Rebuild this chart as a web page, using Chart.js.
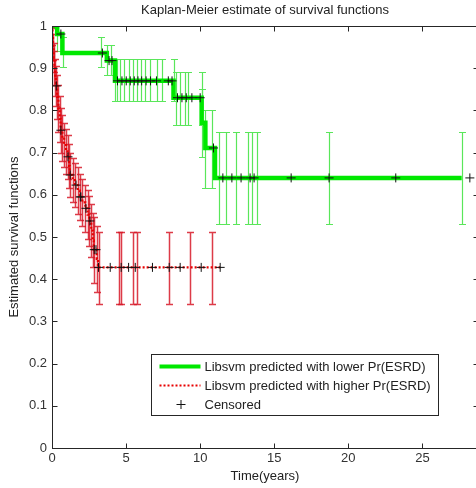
<!DOCTYPE html>
<html>
<head>
<meta charset="utf-8">
<title>Kaplan-Meier estimate of survival functions</title>
<script src="https://cdn.jsdelivr.net/npm/chart.js@4.4.1/dist/chart.umd.min.js"></script>
<style>
  html, body { margin: 0; padding: 0; background: #fff; overflow: hidden; }
  #wrap { width: 484px; height: 488px; }
</style>
</head>
<body>
<div id="wrap"><canvas id="km" width="484" height="488"></canvas></div>
<script>
// survival curves (step times in years, survival after the step)
const greenTimes = [0, 0.35, 0.7, 3.7, 4.25, 8.2, 10.1, 10.35, 11.0, 27.65];
const greenSurv  = [1, 0.981, 0.936, 0.918, 0.87, 0.83, 0.771, 0.711, 0.64, 0.64];

const redTimes = [0, 0.03, 0.07, 0.11, 0.16, 0.22, 0.27, 0.35, 0.43, 0.52, 0.58, 0.7, 0.82, 0.95, 1.05,
                  1.15, 1.2, 1.4, 1.55, 1.75, 1.88, 2.05, 2.25, 2.4, 2.52, 2.65, 2.75, 2.82, 3.02, 3.1, 11.35];
const redSurv  = [1, 0.975, 0.95, 0.925, 0.9, 0.878, 0.858, 0.832, 0.805, 0.78, 0.753, 0.735, 0.718, 0.703, 0.69,
                  0.668, 0.647, 0.635, 0.623, 0.61, 0.595, 0.582, 0.568, 0.553, 0.538, 0.515, 0.492, 0.47, 0.448, 0.428, 0.428];

// censored observations
const greenCensorTimes = [0.6, 3.4, 3.85, 4.05, 4.42, 4.72, 5.01, 5.28, 5.55, 5.8, 6.05, 6.35, 6.65, 7.05, 7.85, 8.1,
                          8.47, 8.77, 9.06, 9.44, 10.0, 10.9, 11.53, 12.14, 12.76, 13.37, 13.64, 16.14, 18.7, 23.2, 28.2];
const greenCensorSurv  = [0.981, 0.936, 0.918, 0.918, 0.87, 0.87, 0.87, 0.87, 0.87, 0.87, 0.87, 0.87, 0.87, 0.87, 0.87, 0.87,
                          0.83, 0.83, 0.83, 0.83, 0.83, 0.711, 0.64, 0.64, 0.64, 0.64, 0.64, 0.64, 0.64, 0.64, 0.64];
const redCensorTimes = [0.29, 0.6, 1.08, 1.23, 1.62, 1.91, 1.95, 2.29, 2.56, 2.85, 2.97, 3.14, 3.93, 4.67, 5.17,
                        5.62, 6.78, 7.91, 8.65, 10.07, 11.35];
const redCensorSurv  = [0.858, 0.753, 0.69, 0.647, 0.623, 0.595, 0.595, 0.568, 0.538, 0.47, 0.47, 0.428, 0.428, 0.428, 0.428,
                        0.428, 0.428, 0.428, 0.428, 0.428, 0.428];

// confidence bars
const greenBarTimes = [0.35, 0.75, 3.3, 3.7, 3.95, 4.25, 4.38, 4.6, 4.88, 5.17, 5.44, 5.73, 6.0, 6.29, 6.63, 7.08, 7.42, 8.2,
                       8.35, 8.65, 8.95, 9.2, 10.1, 10.15, 10.35, 10.83, 11.24, 11.73, 12.43, 13.26, 13.53, 13.82, 18.7, 27.65];
const greenBarLow  = [0.94, 0.903, 0.903, 0.885, 0.885, 0.822, 0.822, 0.822, 0.822, 0.822, 0.822, 0.822, 0.822, 0.822, 0.822, 0.822, 0.822, 0.822,
                      0.765, 0.765, 0.765, 0.765, 0.765, 0.69, 0.617, 0.617, 0.53, 0.53, 0.53, 0.53, 0.53, 0.53, 0.53, 0.53];
const greenBarHigh = [1.0, 0.975, 0.975, 0.955, 0.955, 0.921, 0.921, 0.921, 0.921, 0.921, 0.921, 0.921, 0.921, 0.921, 0.921, 0.921, 0.921, 0.921,
                      0.892, 0.892, 0.892, 0.892, 0.892, 0.85, 0.802, 0.802, 0.749, 0.749, 0.749, 0.749, 0.749, 0.749, 0.749, 0.749];

const redBarTimes = [0.03, 0.07, 0.11, 0.16, 0.22, 0.27, 0.35, 0.43, 0.52, 0.58, 0.7, 0.82, 0.95, 1.05, 1.15, 1.2, 1.4, 1.55,
                     1.75, 1.88, 2.05, 2.25, 2.4, 2.52, 2.65, 2.75, 2.82, 3.02, 3.14, 4.49, 4.67, 5.46, 5.73, 7.91, 9.33, 10.79];
const redBarLow  = [0.955, 0.92, 0.89, 0.86, 0.835, 0.81, 0.78, 0.75, 0.725, 0.7, 0.68, 0.665, 0.65, 0.638, 0.615, 0.595, 0.583, 0.57,
                    0.555, 0.54, 0.527, 0.512, 0.495, 0.478, 0.452, 0.428, 0.39, 0.37, 0.342, 0.342, 0.342, 0.342, 0.342, 0.342, 0.342, 0.342];
const redBarHigh = [0.995, 0.98, 0.96, 0.94, 0.921, 0.906, 0.884, 0.86, 0.835, 0.806, 0.79, 0.771, 0.756, 0.742, 0.721, 0.699, 0.687, 0.676,
                    0.665, 0.65, 0.637, 0.624, 0.611, 0.598, 0.578, 0.556, 0.548, 0.526, 0.511, 0.511, 0.511, 0.511, 0.511, 0.511, 0.511, 0.511];

const xTickStep = 5;
const yTickStep = 0.1;

const toPoints = (xs, ys) => xs.map((x, i) => ({ x: x, y: ys[i] }));

const GREEN = 'rgb(0,232,0)';
const RED = 'rgb(232,0,0)';
const AXIS = '#262626';
const FONT = { family: '"Liberation Sans", Arial, sans-serif', size: 13 };

// thin vertical bars with caps, under the curves
const errorBars = {
    id: 'errorBars',
    beforeDatasetsDraw(chart) {
        const { ctx, chartArea: a, scales: { x, y } } = chart;
        ctx.save();
        ctx.beginPath();
        ctx.rect(a.left, a.top, a.width, a.height);
        ctx.clip();
        const drawSet = (times, lo, hi, color, width) => {
            ctx.strokeStyle = color;
            ctx.lineWidth = width;
            times.forEach((t, i) => {
                const px = Math.round(x.getPixelForValue(t)) + 0.5;
                const top = Math.round(y.getPixelForValue(hi[i])) + 0.5;
                const bot = Math.round(y.getPixelForValue(lo[i])) + 0.5;
                ctx.beginPath();
                ctx.moveTo(px, top); ctx.lineTo(px, bot);
                ctx.moveTo(px - 3.5, top); ctx.lineTo(px + 3.5, top);
                ctx.moveTo(px - 3.5, bot); ctx.lineTo(px + 3.5, bot);
                ctx.stroke();
            });
        };
        drawSet(greenBarTimes, greenBarLow, greenBarHigh, 'rgb(90,230,90)', 1.2);
        drawSet(redBarTimes, redBarLow, redBarHigh, 'rgba(215,25,40,0.85)', 1.5);
        ctx.restore();
    }
};

// boxed axes with inward ticks, plus the legend box inside the plot
const boxAndLegend = {
    id: 'boxAndLegend',
    afterDraw(chart) {
        const { ctx, chartArea: a, scales: { x, y } } = chart;
        ctx.save();
        ctx.strokeStyle = AXIS;
        ctx.lineWidth = 1;
        const L = Math.round(a.left) + 0.5, R = Math.round(a.right) + 0.5;
        const T = Math.round(a.top) + 0.5, B = Math.round(a.bottom) + 0.5;
        ctx.strokeRect(L, T, R - L, B - T);
        ctx.beginPath();
        x.ticks.forEach(t => {
            const px = Math.round(x.getPixelForValue(t.value)) + 0.5;
            ctx.moveTo(px, B); ctx.lineTo(px, B - 5);
            ctx.moveTo(px, T); ctx.lineTo(px, T + 5);
        });
        y.ticks.forEach(t => {
            const py = Math.round(y.getPixelForValue(t.value)) + 0.5;
            ctx.moveTo(L, py); ctx.lineTo(L + 5, py);
            ctx.moveTo(R, py); ctx.lineTo(R - 5, py);
        });
        ctx.stroke();

        // legend
        const lx = L + 99, ly = B - 94, lw = 287, lh = 61;
        ctx.fillStyle = '#fff';
        ctx.fillRect(lx, ly, lw, lh);
        ctx.strokeStyle = AXIS;
        ctx.strokeRect(lx, ly, lw, lh);
        const sets = chart.data.datasets;
        const rows = [ly + 12, ly + 31, ly + 49.5];

        ctx.strokeStyle = GREEN;
        ctx.lineWidth = 4;
        ctx.beginPath(); ctx.moveTo(lx + 8, rows[0]); ctx.lineTo(lx + 49, rows[0]); ctx.stroke();

        ctx.strokeStyle = RED;
        ctx.lineWidth = 2;
        ctx.setLineDash([2, 2]);
        ctx.beginPath(); ctx.moveTo(lx + 8, rows[1]); ctx.lineTo(lx + 49, rows[1]); ctx.stroke();
        ctx.setLineDash([]);

        ctx.strokeStyle = '#111';
        ctx.lineWidth = 1;
        const cx = lx + 29.5, cy = Math.round(rows[2]) + 0.5;
        ctx.beginPath();
        ctx.moveTo(cx - 4.5, cy); ctx.lineTo(cx + 4.5, cy);
        ctx.moveTo(cx, cy - 4.5); ctx.lineTo(cx, cy + 4.5);
        ctx.stroke();

        ctx.fillStyle = '#222';
        ctx.font = FONT.size + 'px ' + FONT.family;
        ctx.textBaseline = 'middle';
        ctx.textAlign = 'left';
        const labels = [sets[2].label, sets[1].label, sets[0].label];
        labels.forEach((txt, i) => ctx.fillText(txt, lx + 53, rows[i] + 1));
        ctx.restore();
    }
};

const censorPoints = toPoints(greenCensorTimes, greenCensorSurv).concat(toPoints(redCensorTimes, redCensorSurv));

new Chart(document.getElementById('km'), {
    type: 'scatter',
    data: {
        datasets: [
            {
                label: 'Censored',
                data: censorPoints,
                pointStyle: 'cross',
                pointRadius: 4.5,
                pointBorderWidth: 1,
                borderColor: '#111',
                showLine: false,
                order: 0
            },
            {
                label: 'Libsvm predicted with higher Pr(ESRD)',
                data: toPoints(redTimes, redSurv),
                showLine: true,
                stepped: 'before',
                borderColor: RED,
                borderWidth: 2.2,
                borderDash: [2, 2],
                pointRadius: 0,
                order: 1
            },
            {
                label: 'Libsvm predicted with lower Pr(ESRD)',
                data: toPoints(greenTimes, greenSurv),
                showLine: true,
                stepped: 'before',
                borderColor: GREEN,
                borderWidth: 4.5,
                pointRadius: 0,
                order: 2
            }
        ]
    },
    options: {
        responsive: false,
        animation: false,
        layout: { padding: { left: 0, right: 6, top: 0, bottom: 0 } },
        plugins: {
            legend: { display: false },
            tooltip: { enabled: false },
            title: {
                display: true,
                text: 'Kaplan-Meier estimate of survival functions',
                fullSize: false,
                color: '#222',
                font: { family: FONT.family, size: 13, weight: 'normal' },
                padding: { top: 3, bottom: 7.4 }
            }
        },
        scales: {
            x: {
                type: 'linear',
                min: 0,
                max: 28.75,
                grid: { display: false, drawTicks: false },
                border: { display: false },
                ticks: {
                    stepSize: xTickStep,
                    includeBounds: false,
                    padding: 3,
                    color: '#333',
                    font: FONT,
                    maxRotation: 0
                },
                title: {
                    display: true,
                    text: 'Time(years)',
                    color: '#222',
                    font: FONT,
                    padding: { top: 0, bottom: 4 }
                },
                afterFit(scale) { scale.height = 40; }
            },
            y: {
                type: 'linear',
                min: 0,
                max: 1,
                grid: { display: false, drawTicks: false },
                border: { display: false },
                ticks: {
                    stepSize: yTickStep,
                    padding: 5,
                    color: '#333',
                    font: FONT,
                    callback: v => Number(v.toFixed(1)).toString()
                },
                title: {
                    display: true,
                    text: 'Estimated survival functions',
                    color: '#222',
                    font: FONT,
                    padding: { top: 6.7, bottom: 0 }
                },
                afterFit(scale) { scale.width = 52; }
            }
        }
    },
    plugins: [errorBars, boxAndLegend]
});
</script>
</body>
</html>
